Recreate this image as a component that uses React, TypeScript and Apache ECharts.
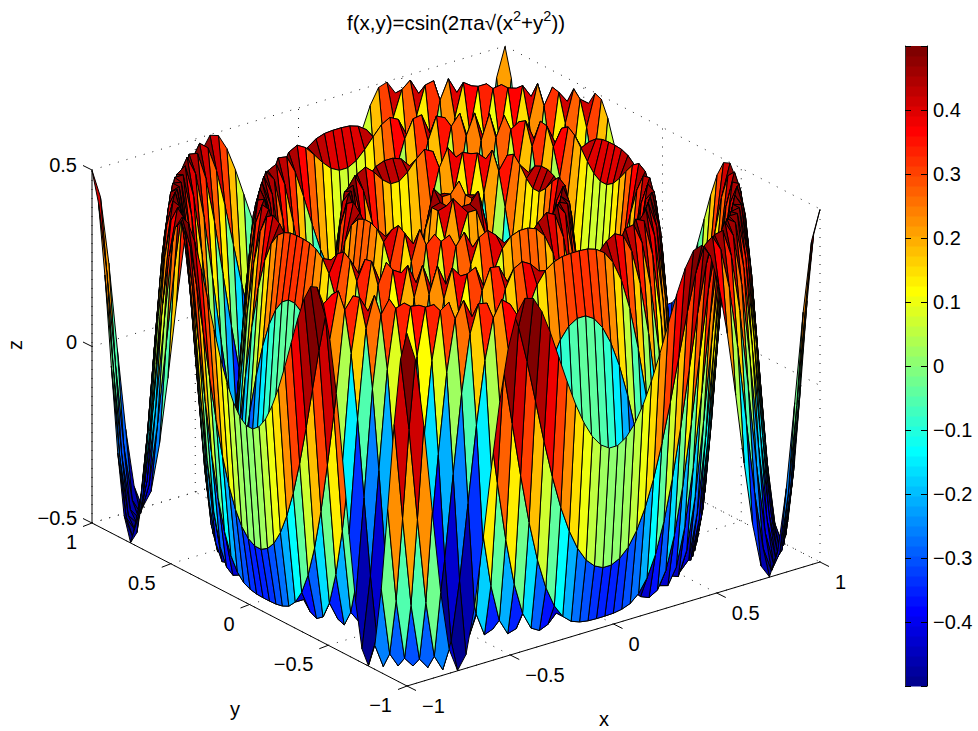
import React, { useEffect, useRef } from "react";
import * as echarts from "echarts";

// Surface heights on a 50-point grid (x, y = -1 + 2k/49). The grid has no centre vertex, so a row p holds the values
// for |x| = (2p+1)/49 and column q for |y| = (2q+1)/49 with q <= p; the other octants mirror these.
const Z_ROWS: number[][] = [
  [.259],
  [.469,.499],
  [.462,.391,.205],
  [.205,.105,-.083,-.309],
  [-.168,-.243,-.365,-.474,-.492],
  [-.447,-.474,-.499,-.477,-.364,-.147],
  [-.477,-.456,-.399,-.284,-.1,.132,.355],
  [-.24,-.194,-.1,.042,.216,.383,.488,.477],
  [.132,.175,.254,.355,.449,.499,.465,.323,.088],
  [.43,.449,.478,.499,.486,.415,.269,.056,-.187,-.395],
  [.486,.477,.45,.394,.297,.15,-.038,-.241,-.412,-.497,-.455],
  [.269,.241,.181,.088,-.038,-.187,-.337,-.454,-.5,-.443,-.276,-.027],
  [-.099,-.129,-.187,-.267,-.358,-.441,-.494,-.488,-.403,-.234,-.003,.241,.43],
  [-.412,-.428,-.454,-.482,-.499,-.488,-.431,-.316,-.144,.067,.279,.441,.5,.426],
  [-.493,-.488,-.474,-.443,-.387,-.297,-.167,-.003,.178,.348,.467,.497,.415,.224,-.034],
  [-.297,-.276,-.234,-.167,-.074,.044,.178,.315,.43,.494,.482,.379,.189,-.053,-.291,-.458],
  [.067,.09,.135,.2,.279,.364,.441,.491,.495,.436,.307,.116,-.108,-.32,-.465,-.495,-.391],
  [.393,.406,.43,.459,.486,.5,.487,.436,.337,.189,.003,-.196,-.372,-.481,-.489,-.38,-.169,.095],
  [.497,.495,.487,.47,.436,.379,.291,.171,.022,-.144,-.306,-.434,-.497,-.471,-.346,-.139,.11,.338,.479],
  [.322,.307,.275,.224,.153,.06,-.053,-.179,-.306,-.416,-.486,-.495,-.428,-.283,-.077,.155,.36,.483,.483,.35],
  [-.034,-.053,-.09,-.144,-.213,-.291,-.372,-.443,-.49,-.497,-.452,-.346,-.184,.018,.226,.399,.492,.475,.339,.111,-.155],
  [-.372,-.383,-.405,-.434,-.465,-.49,-.5,-.486,-.437,-.346,-.213,-.045,.14,.315,.446,.5,.454,.308,.084,-.167,-.38,-.493],
  [-.5,-.499,-.495,-.486,-.465,-.428,-.369,-.283,-.169,-.029,.125,.279,.408,.487,.492,.413,.251,.03,-.204,-.397,-.495,-.464,-.303],
  [-.346,-.334,-.31,-.27,-.213,-.139,-.045,.064,.184,.303,.408,.479,.499,.454,.339,.163,-.05,-.262,-.426,-.499,-.454,-.293,-.051,.211],
  [.002,.018,.049,.095,.155,.226,.303,.38,.446,.49,.498,.46,.369,.226,.044,-.155,-.335,-.461,-.499,-.432,-.263,-.027,.222,.417,.499],
];
const GRID_POINTS = 50;
const X_TICKS = [-1, -0.5, 0, 0.5, 1];
const Y_TICKS = [-1, -0.5, 0, 0.5, 1];
const Z_TICKS = [-0.5, 0, 0.5];
const BAR_TICKS = [-0.4, -0.3, -0.2, -0.1, 0, 0.1, 0.2, 0.3, 0.4];
const TITLE_PARTS = ["f(x,y)=csin(2πa√(x", "2", "+y", "2", "))"];
const FONT = '"Liberation Sans", Arial, sans-serif';

const coordOf = (k: number) => -1 + (2 * k) / (GRID_POINTS - 1);
const zAt = (k: number, l: number) => {
  const p = (Math.abs(2 * k - (GRID_POINTS - 1)) - 1) / 2;
  const q = (Math.abs(2 * l - (GRID_POINTS - 1)) - 1) / 2;
  return p >= q ? Z_ROWS[p][q] : Z_ROWS[q][p];
};
const fmt = (v: number) => String(v).replace("-", "\u2212");

// Projection of the 3D box to the page
const O = [407, 686], VX = [413, -124], VY = [-315, -163], VZ = 353;
const project = (x: number, y: number, z: number): [number, number] => {
  const u = (x + 1) / 2, v = (y + 1) / 2, w = z + 0.5;
  return [O[0] + u * VX[0] + v * VY[0], O[1] + u * VX[1] + v * VY[1] - w * VZ];
};

const LEVELS = 64;
const clamp = (v: number) => Math.max(0, Math.min(1, v));
const jet = (k: number) => {
  const t = (k + 1) / LEVELS;
  const r = clamp(Math.min(4 * t - 1.5, -4 * t + 4.5));
  const g = clamp(Math.min(4 * t - 0.5, -4 * t + 3.5));
  const b = clamp(Math.min(4 * t + 0.5, -4 * t + 2.5));
  return `rgb(${Math.round(r * 255)},${Math.round(g * 255)},${Math.round(b * 255)})`;
};
const colorOf = (z: number) => jet(Math.max(0, Math.min(LEVELS - 1, Math.floor((z + 0.5) * LEVELS))));

// Cells far to near, so that near ones cover far ones
type Cell = { pts: [number, number][]; fill: string };
const cells: Cell[] = [];
for (let a = GRID_POINTS - 2; a >= 0; a--) {
  for (let b = GRID_POINTS - 2; b >= 0; b--) {
    const corners: [number, number][] = [[a, b], [a + 1, b], [a + 1, b + 1], [a, b + 1]];
    cells.push({
      pts: corners.map(([p, q]) => project(coordOf(p), coordOf(q), zAt(p, q))),
      fill: colorOf(zAt(a, b)),
    });
  }
}

type Seg = [number, number, number, number, number, number];
const dotted: Seg[] = [];
for (const t of X_TICKS) {
  dotted.push([t, -1, -0.5, t, 1, -0.5]);
  dotted.push([t, 1, -0.5, t, 1, 0.5]);
}
for (const t of Y_TICKS) {
  dotted.push([-1, t, -0.5, 1, t, -0.5]);
  dotted.push([1, t, -0.5, 1, t, 0.5]);
}
for (const t of Z_TICKS) {
  dotted.push([-1, 1, t, 1, 1, t]);
  dotted.push([1, 1, t, 1, -1, t]);
}
const solid: Seg[] = [
  [-1, -1, -0.5, 1, -1, -0.5],
  [-1, -1, -0.5, -1, 1, -0.5],
  [-1, 1, -0.5, -1, 1, 0.5],
];

const segRender = (segs: Seg[], style: any) => (params: any, api: any) => {
  const s = segs[params.dataIndex];
  const a = api.coord(project(s[0], s[1], s[2]));
  const b = api.coord(project(s[3], s[4], s[5]));
  return { type: "line", shape: { x1: a[0], y1: a[1], x2: b[0], y2: b[1] }, style };
};

const tickSegs: [number, number, number, number][] = [
  ...X_TICKS.map((t) => { const p = project(t, -1, -0.5); return [p[0], p[1], p[0] + 9, p[1] + 4.5] as [number, number, number, number]; }),
  ...Y_TICKS.map((t) => { const p = project(-1, t, -0.5); return [p[0], p[1], p[0] - 9, p[1] + 3.5] as [number, number, number, number]; }),
  ...Z_TICKS.map((t) => { const p = project(-1, 1, t); return [p[0], p[1], p[0] - 9, p[1] - 4.5] as [number, number, number, number]; }),
];

const label = (text: string, x: number, y: number, align: string, extra: any = {}) => ({
  type: "text", x, y, silent: true, ...extra,
  style: { text, font: `20px ${FONT}`, fill: "#000", textAlign: align, textVerticalAlign: "middle" },
});

const barLevels = Array.from({ length: LEVELS }, (_, k) => k);

export default function App() {
  const ref = useRef<HTMLDivElement>(null);
  useEffect(() => {
    const chart = echarts.init(ref.current!, undefined, { renderer: "svg" });
    const graphics: any[] = [
      ...X_TICKS.map((t) => { const p = project(t, -1, -0.5); return label(fmt(t), p[0] + 15, p[1] + 20, "left"); }),
      ...Y_TICKS.map((t) => { const p = project(-1, t, -0.5); return label(fmt(t), p[0] - 15, p[1] + 19, "right"); }),
      ...Z_TICKS.map((t) => { const p = project(-1, 1, t); return label(fmt(t), p[0] - 15, p[1] - 5, "right"); }),
      label("x", 604, 719, "center"),
      label("y", 235, 709, "center"),
      label("z", 15, 345, "center", { rotation: Math.PI / 2 }),
    ];
    chart.setOption({
      animation: false,
      title: {
        left: 456, top: 8, textAlign: "center", padding: 0,
        text: `{a|${TITLE_PARTS[0]}}{s|${TITLE_PARTS[1]}}{a|${TITLE_PARTS[2]}}{s|${TITLE_PARTS[3]}}{a|${TITLE_PARTS[4]}}`,
        textStyle: {
          fontWeight: "normal",
          rich: {
            a: { fontFamily: FONT, fontSize: 20.5, fontWeight: "normal", color: "#000", lineHeight: 25, verticalAlign: "bottom" },
            s: { fontFamily: FONT, fontSize: 14.5, fontWeight: "normal", color: "#000", lineHeight: 25, verticalAlign: "top" },
          },
        },
      },
      grid: [
        { left: 0, top: 0, width: 978, height: 731, show: false },
        { left: 905, top: 46, width: 22, height: 640, show: false },
      ],
      xAxis: [
        { type: "value", gridIndex: 0, min: 0, max: 978, show: false },
        { type: "value", gridIndex: 1, min: 0, max: 1, show: false },
      ],
      yAxis: [
        { type: "value", gridIndex: 0, min: 0, max: 731, inverse: true, show: false },
        {
          type: "value", gridIndex: 1, min: -0.5, max: 0.5, interval: 0.1, position: "right",
          splitLine: { show: false }, z: 5,
          axisLine: { show: true, onZero: false, lineStyle: { color: "#000", width: 1 } },
          axisTick: { show: true, inside: true, length: 6, lineStyle: { color: "#000", width: 1 } },
          axisLabel: {
            fontFamily: FONT, fontSize: 20, color: "#000", margin: 6,
            formatter: (v: number) => {
              const r = Math.round(v * 10) / 10;
              return BAR_TICKS.includes(r) ? fmt(r) : "";
            },
          },
        },
        {
          type: "value", gridIndex: 1, min: -0.5, max: 0.5, interval: 0.1, position: "left",
          splitLine: { show: false }, z: 5,
          axisLine: { show: true, onZero: false, lineStyle: { color: "#333", width: 1 } },
          axisTick: { show: true, inside: true, length: 6, lineStyle: { color: "#000", width: 1 } },
          axisLabel: { show: false },
        },
      ],
      series: [
        {
          type: "custom", coordinateSystem: "cartesian2d", xAxisIndex: 0, yAxisIndex: 0, silent: true,
          clip: false, progressive: 0, z: 1, data: dotted.map((_, i) => [i]),
          renderItem: segRender(dotted, { stroke: "#222", lineWidth: 1, lineDash: [1, 8], fill: null }),
        },
        {
          type: "custom", coordinateSystem: "cartesian2d", xAxisIndex: 0, yAxisIndex: 0, silent: true,
          clip: false, progressive: 0, z: 2, data: solid.map((_, i) => [i]),
          renderItem: segRender(solid, { stroke: "#000", lineWidth: 1, fill: null }),
        },
        {
          type: "custom", coordinateSystem: "cartesian2d", xAxisIndex: 0, yAxisIndex: 0, silent: true,
          clip: false, progressive: 0, z: 2, data: tickSegs.map((_, i) => [i]),
          renderItem: (params: any, api: any) => {
            const s = tickSegs[params.dataIndex];
            const a = api.coord([s[0], s[1]]), b = api.coord([s[2], s[3]]);
            return { type: "line", shape: { x1: a[0], y1: a[1], x2: b[0], y2: b[1] }, style: { stroke: "#000", lineWidth: 1, fill: null } };
          },
        },
        {
          type: "custom", coordinateSystem: "cartesian2d", xAxisIndex: 0, yAxisIndex: 0, silent: true,
          clip: false, progressive: 0, z: 3, data: cells.map((_, i) => [i]),
          renderItem: (params: any, api: any) => {
            const c = cells[params.dataIndex];
            return {
              type: "polygon",
              shape: { points: c.pts.map((p) => api.coord(p)) },
              style: { fill: c.fill, stroke: "#000", lineWidth: 1, lineJoin: "round" },
            };
          },
        },
        {
          type: "custom", coordinateSystem: "cartesian2d", xAxisIndex: 1, yAxisIndex: 1, silent: true,
          clip: false, progressive: 0, z: 3, data: barLevels.map((k) => [k]),
          renderItem: (params: any, api: any) => {
            const k = barLevels[params.dataIndex];
            const a = api.coord([0, -0.5 + (k + 1) / LEVELS]);
            const b = api.coord([1, -0.5 + k / LEVELS]);
            return { type: "rect", shape: { x: a[0], y: a[1], width: b[0] - a[0], height: b[1] - a[1] + 0.5 }, style: { fill: jet(k) } };
          },
        },
      ],
      graphic: graphics,
    });
    return () => chart.dispose();
  }, []);
  return <div ref={ref} style={{ position: "absolute", left: 0, top: 0, width: 978, height: 731 }} />;
}
